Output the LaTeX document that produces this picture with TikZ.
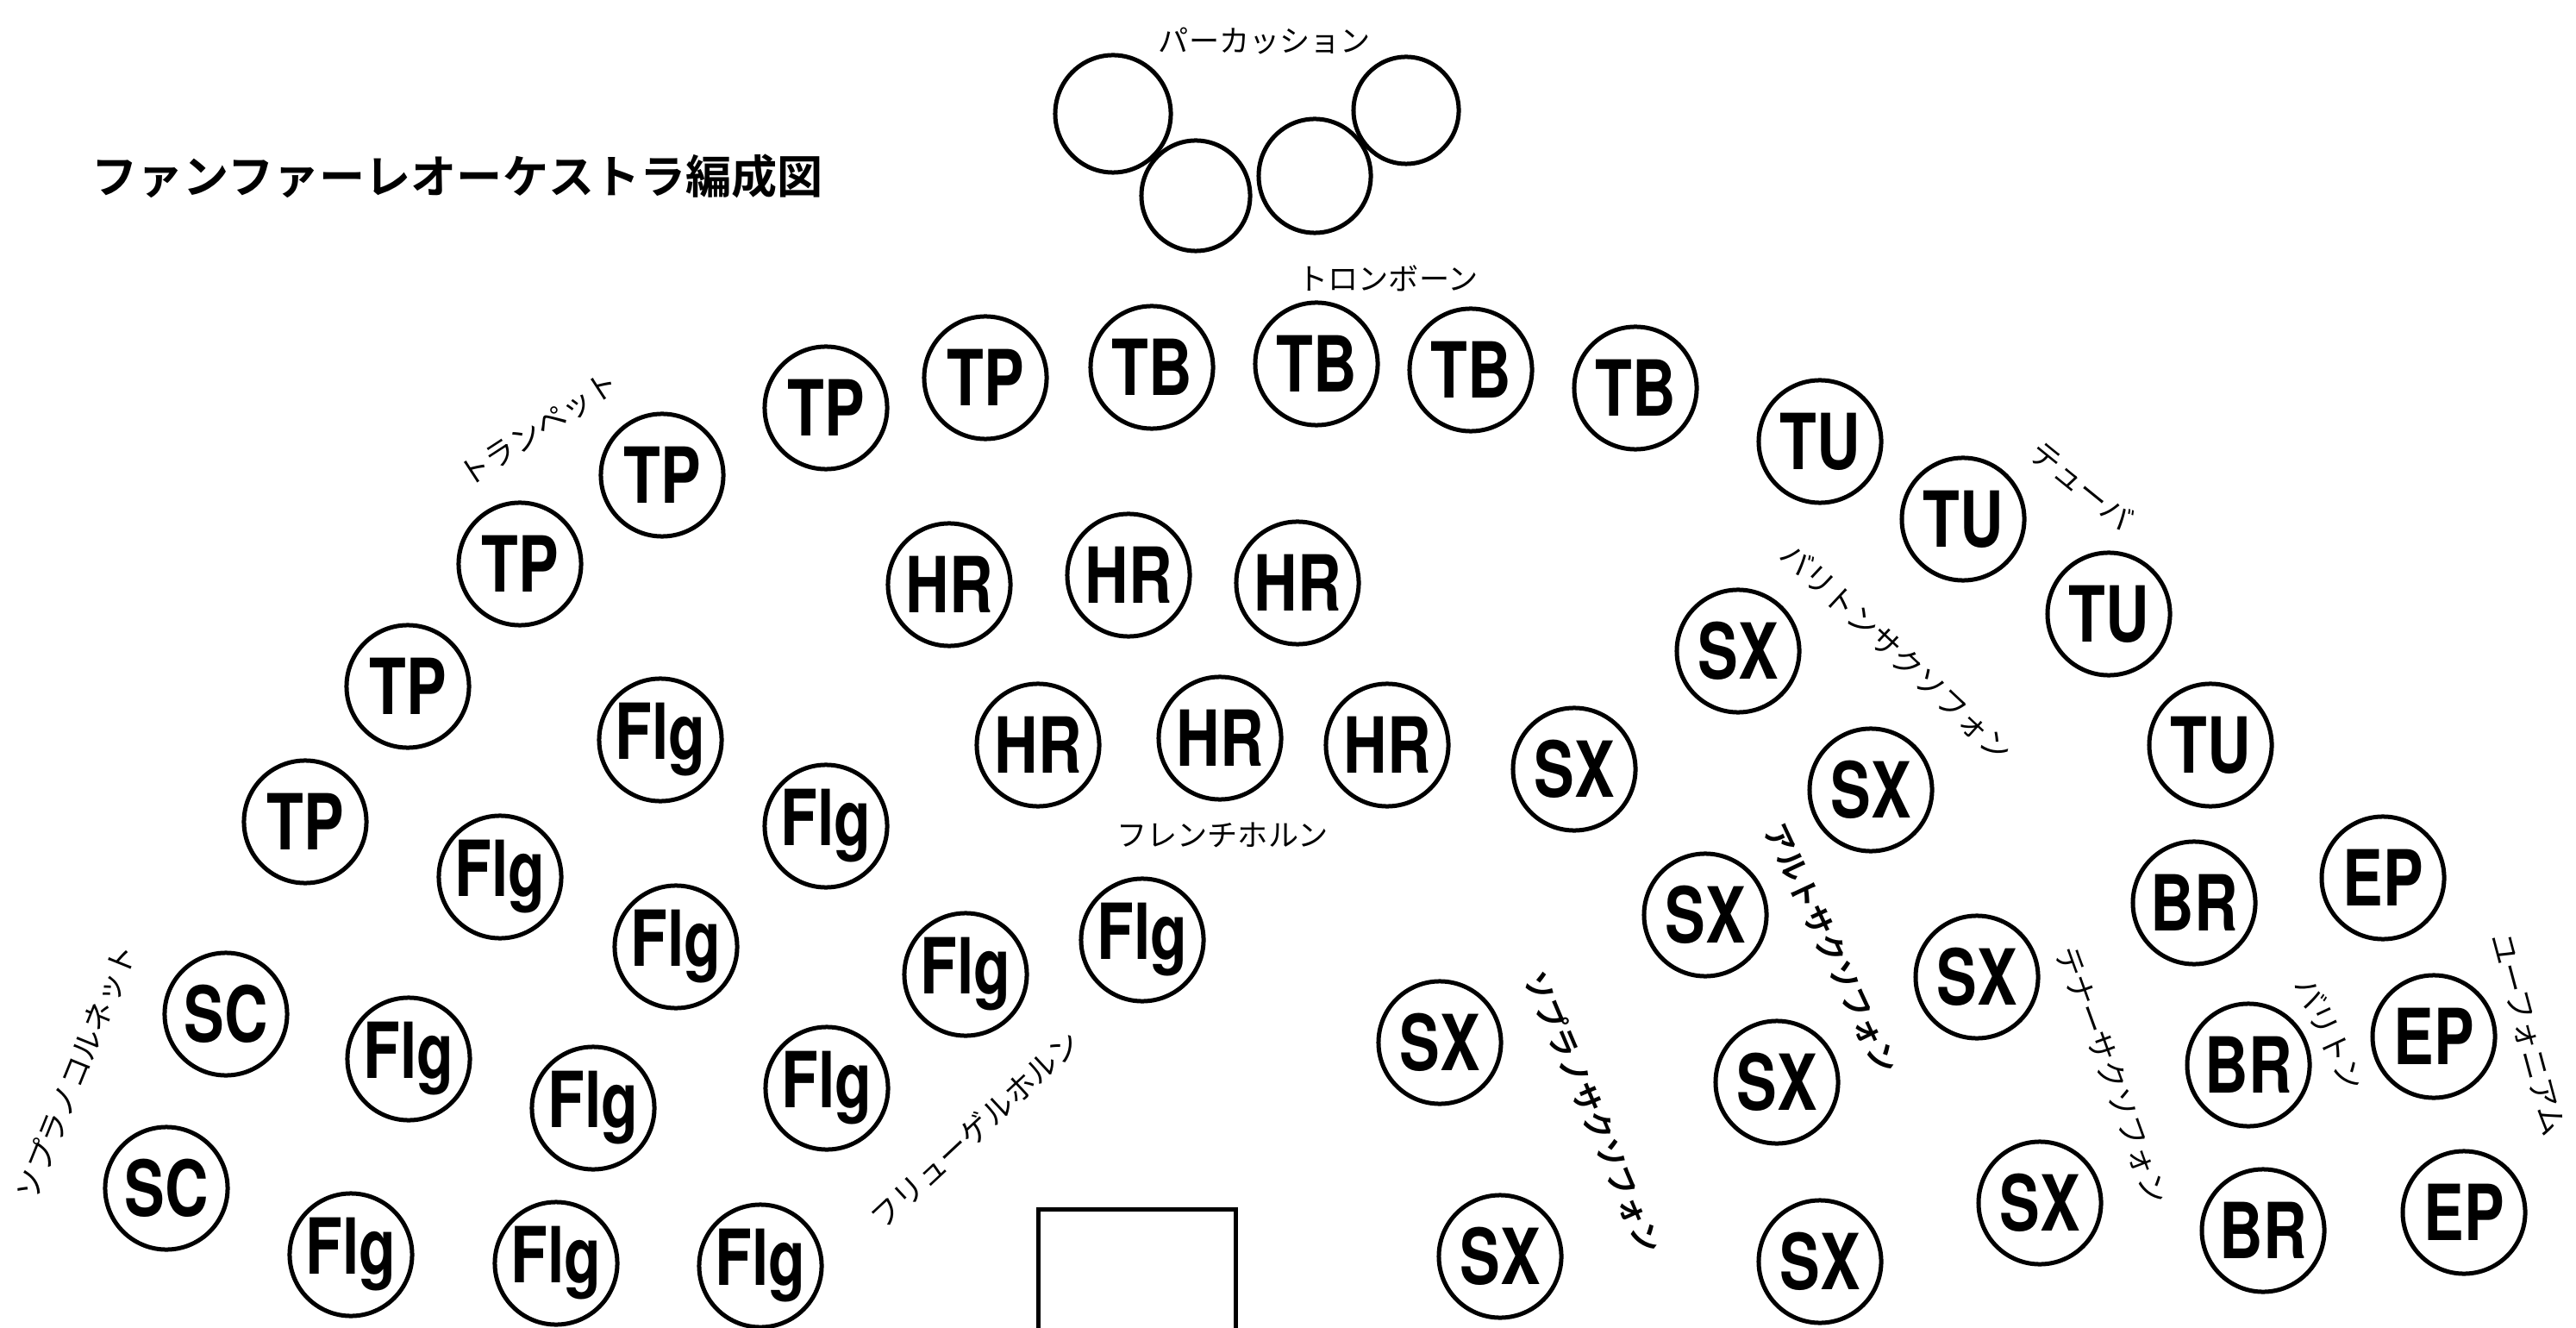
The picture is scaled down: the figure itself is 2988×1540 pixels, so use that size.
\documentclass[tikz,border=0pt]{standalone}
\usepackage{fontspec}
\usetikzlibrary{shapes.geometric}
\newfontfamily\jpfont{Noto Sans CJK JP}
\newfontfamily\jpbold{Noto Sans CJK JP Bold}
\newfontfamily\instfont{TeX Gyre Heros}[FakeStretch=0.78]

\begin{document}
\begin{tikzpicture}[x=0.01cm, y=-0.01cm,
  inst/.style={draw, circle, line width=0.05cm, minimum size=1.42cm, inner sep=0pt,
    font=\instfont\bfseries\fontsize{25.5}{25.5}\selectfont},
  perc/.style 2 args={draw, ellipse, line width=0.05cm, inner sep=0pt,
    minimum width=#1, minimum height=#2},
  lab/.style={font=\jpfont\fontsize{10}{10}\selectfont, inner sep=0pt},
  labbold/.style={font=\jpbold\fontsize{10}{10}\selectfont, inner sep=0pt}]
  \useasboundingbox (0,0) rectangle (2988,1540);

  \node[anchor=west, inner sep=0pt, font=\jpbold\fontsize{15.1}{15.1}\selectfont] (title) at (106,204) {ファンファーレオーケストラ編成図};

  % percussion
  \node[perc={1.34cm}{1.36cm}] (perc1) at (1291,132) {};
  \node[perc={1.26cm}{1.28cm}] (perc2) at (1387,227) {};
  \node[perc={1.30cm}{1.32cm}] (perc3) at (1525,204) {};
  \node[perc={1.22cm}{1.24cm}] (perc4) at (1631,128) {};
  \node[lab] (lperc) at (1467,48) {パーカッション};

  % trumpets and trombones
  \node[inst] (tp1) at (354,953) {TP};
  \node[inst] (tp2) at (473,796) {TP};
  \node[inst] (tp3) at (603,654) {TP};
  \node[inst] (tp4) at (768,551) {TP};
  \node[inst] (tp5) at (958,473) {TP};
  \node[inst] (tp6) at (1143,438) {TP};
  \node[inst] (tb1) at (1336,426) {TB};
  \node[inst] (tb2) at (1527,422) {TB};
  \node[inst] (tb3) at (1706,429) {TB};
  \node[inst] (tb4) at (1897,450) {TB};
  \node[lab, rotate=33] (ltp) at (625,498) {トランペット};
  \node[lab] (ltb) at (1610,323) {トロンボーン};

  % tubas
  \node[inst] (tu1) at (2111,512) {TU};
  \node[inst] (tu2) at (2277,602) {TU};
  \node[inst] (tu3) at (2446,712) {TU};
  \node[inst] (tu4) at (2564,864) {TU};
  \node[lab, rotate=-39] (ltu) at (2415,563) {テューバ};

  % french horns
  \node[inst] (hr1) at (1101,678) {HR};
  \node[inst] (hr2) at (1309,667) {HR};
  \node[inst] (hr3) at (1505,676) {HR};
  \node[inst] (hr4) at (1204,864) {HR};
  \node[inst] (hr5) at (1415,856) {HR};
  \node[inst] (hr6) at (1609,864) {HR};
  \node[lab] (lhr) at (1418,968) {フレンチホルン};

  % soprano cornets
  \node[inst] (sc1) at (262,1176) {SC};
  \node[inst] (sc2) at (193,1378) {SC};
  \node[lab, rotate=68] (lsc) at (88,1243) {ソプラノコルネット};

  % flugelhorns
  \node[inst] (flg1) at (766,858) {Flg};
  \node[inst] (flg2) at (958,958) {Flg};
  \node[inst] (flg3) at (580,1017) {Flg};
  \node[inst] (flg4) at (784,1098) {Flg};
  \node[inst] (flg5) at (474,1228) {Flg};
  \node[inst] (flg6) at (688,1285) {Flg};
  \node[inst] (flg7) at (959,1262) {Flg};
  \node[inst] (flg8) at (407,1455) {Flg};
  \node[inst] (flg9) at (645,1465) {Flg};
  \node[inst] (flg10) at (882,1468) {Flg};
  \node[inst] (flg11) at (1120,1130) {Flg};
  \node[inst] (flg12) at (1325,1090) {Flg};
  \node[lab, rotate=43] (lflg) at (1131,1310) {フリューゲルホルン};

  % saxophones
  \node[inst] (sx1) at (1826,892) {SX};
  \node[inst] (sx2) at (2016,755) {SX};
  \node[inst] (sx3) at (2170,916) {SX};
  \node[inst] (sx4) at (1978,1061) {SX};
  \node[inst] (sx5) at (2293,1133) {SX};
  \node[inst] (sx6) at (1670,1209) {SX};
  \node[inst] (sx7) at (2061,1255) {SX};
  \node[inst] (sx8) at (2366,1395) {SX};
  \node[inst] (sx9) at (1740,1457) {SX};
  \node[inst] (sx10) at (2111,1463) {SX};
  \node[lab, rotate=-43] (lbsx) at (2200,757) {バリトンサクソフォン};
  \node[labbold, rotate=-65] (lasx) at (2124,1100) {アルトサクソフォン};
  \node[labbold, rotate=-67] (lssx) at (1848,1290) {ソプラノサクソフォン};
  \node[lab, rotate=-70] (ltsx) at (2450,1247) {テナーサクソフォン};

  % baritones and euphoniums
  \node[inst] (br1) at (2545,1047) {BR};
  \node[inst] (br2) at (2608,1235) {BR};
  \node[inst] (br3) at (2625,1427) {BR};
  \node[inst] (ep1) at (2764,1018) {EP};
  \node[inst] (ep2) at (2823,1202) {EP};
  \node[inst] (ep3) at (2858,1406) {EP};
  \node[lab, rotate=-65] (lbr) at (2703,1199) {バリトン};
  \node[lab, rotate=-75] (lep) at (2932,1200) {ユーフォニアム};

  % conductor
  \draw[line width=0.05cm] (1204,1560) -- (1204,1402) -- (1433,1402) -- (1433,1560);
\end{tikzpicture}
\end{document}
